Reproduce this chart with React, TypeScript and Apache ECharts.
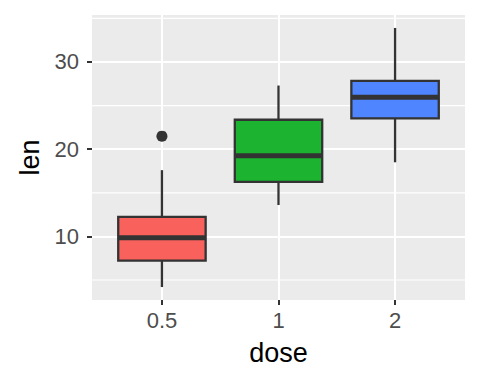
import React, { useEffect, useRef } from 'react';
import * as echarts from 'echarts';

const doses = ['0.5', '1', '2'];
const whiskerLow = [4.2, 13.6, 18.5];
const q1 = [7.225, 16.25, 23.525];
const medians = [9.85, 19.25, 25.95];
const q3 = [12.25, 23.375, 27.825];
const whiskerHigh = [17.6, 27.3, 33.9];
const fills = ['#F8615C', '#1BB32F', '#4F85FF'];
const outlierDose = [1];
const outlierLen = [21.5];
const yTicks = [10, 20, 30];
const yMinor = [5, 15, 25, 35];
const xTicks = [1, 2, 3];
const yRange = [2.715, 35.385];
const xRange = [0.4, 3.6];

const FONT = 'Liberation Sans, Arial, sans-serif';
const INK = '#333333';

export default function App() {
  const ref = useRef<HTMLDivElement>(null);
  useEffect(() => {
    if (!ref.current) return;
    const chart = echarts.init(ref.current, undefined, { renderer: 'svg' });
    const boxData = doses.map((_, i) => [i + 1, whiskerLow[i], q1[i], medians[i], q3[i], whiskerHigh[i]]);
    const option: any = {
      animation: false,
      grid: {
        left: 92, top: 15, right: 15, bottom: 84,
        show: true, backgroundColor: '#EBEBEB', borderWidth: 0,
      },
      xAxis: {
        type: 'value',
        min: xRange[0], max: xRange[1],
        name: 'dose', nameLocation: 'middle', nameGap: 39,
        nameTextStyle: { color: '#000', fontSize: 27, fontFamily: FONT },
        axisLine: { show: false },
        axisTick: { show: true, customValues: xTicks, length: 5, lineStyle: { color: INK, width: 2 } },
        axisLabel: {
          customValues: xTicks, margin: 9, color: '#4D4D4D', fontSize: 22, fontFamily: FONT,
          formatter: (v: number) => doses[Math.round(v) - 1] ?? '',
        },
        splitLine: { show: true, lineStyle: { color: '#FFFFFF', width: 2 } },
      },
      yAxis: {
        type: 'value',
        min: yRange[0], max: yRange[1],
        name: 'len', nameLocation: 'middle', nameGap: 49, nameRotate: 90,
        nameTextStyle: { color: '#000', fontSize: 27, fontFamily: FONT },
        axisLine: { show: false },
        axisTick: { show: true, customValues: yTicks, length: 5, lineStyle: { color: INK, width: 2 } },
        axisLabel: { customValues: yTicks, margin: 13, color: '#4D4D4D', fontSize: 22, fontFamily: FONT },
        splitLine: { show: true, lineStyle: { color: '#FFFFFF', width: 2 } },
      },
      series: [
        {
          type: 'custom',
          name: 'minor',
          z: 1,
          silent: true,
          data: yMinor.map((v) => [v]),
          renderItem: (params: any, api: any) => {
            const y = api.coord([xRange[0], api.value(0)])[1];
            const cs = params.coordSys;
            return {
              type: 'line',
              shape: { x1: cs.x, y1: y, x2: cs.x + cs.width, y2: y },
              style: { stroke: '#FFFFFF', lineWidth: 1.1 },
            };
          },
        },
        {
          type: 'custom',
          name: 'box',
          z: 3,
          data: boxData,
          renderItem: (params: any, api: any) => {
            const x = api.value(0);
            const lo = api.coord([x, api.value(1)]);
            const a = api.coord([x, api.value(2)]);
            const m = api.coord([x, api.value(3)]);
            const b = api.coord([x, api.value(4)]);
            const hi = api.coord([x, api.value(5)]);
            const left = api.coord([x - 0.375, 0])[0];
            const right = api.coord([x + 0.375, 0])[0];
            const color = fills[params.dataIndex];
            return {
              type: 'group',
              children: [
                { type: 'line', shape: { x1: hi[0], y1: hi[1], x2: b[0], y2: b[1] }, style: { stroke: INK, lineWidth: 2.3 } },
                { type: 'line', shape: { x1: lo[0], y1: lo[1], x2: a[0], y2: a[1] }, style: { stroke: INK, lineWidth: 2.3 } },
                { type: 'rect', shape: { x: left, y: b[1], width: right - left, height: a[1] - b[1] }, style: { fill: color, stroke: INK, lineWidth: 2.3 } },
                { type: 'line', shape: { x1: left, y1: m[1], x2: right, y2: m[1] }, style: { stroke: INK, lineWidth: 5 } },
              ],
            };
          },
        },
        {
          type: 'scatter',
          name: 'outlier',
          z: 4,
          symbolSize: 11,
          itemStyle: { color: INK, opacity: 1 },
          data: outlierDose.map((d, i) => [d, outlierLen[i]]),
        },
      ],
    };
    chart.setOption(option);
    return () => chart.dispose();
  }, []);
  return <div ref={ref} style={{ width: 480, height: 384, margin: -8 }} />;
}
